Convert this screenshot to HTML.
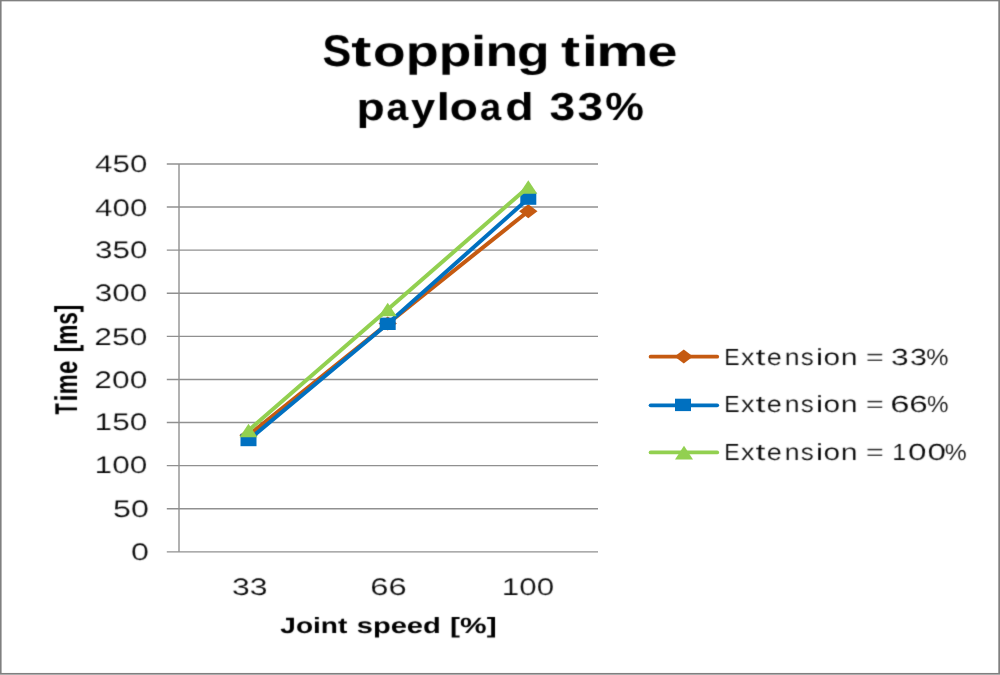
<!DOCTYPE html>
<html><head><meta charset="utf-8"><title>Stopping time payload 33%</title>
<style>
html,body{margin:0;padding:0;background:#fff;}
body{width:1000px;height:675px;overflow:hidden;font-family:"Liberation Sans",sans-serif;}
svg{display:block}
svg text.r{stroke:#fff;stroke-width:0.12px}
svg text{font-family:"Liberation Sans",sans-serif;fill:#000;text-rendering:geometricPrecision}
</style></head><body>
<svg width="1000" height="675" viewBox="0 0 1000 675">
<defs><filter id="soft" x="0" y="0" width="1000" height="675" filterUnits="userSpaceOnUse"><feConvolveMatrix order="3" kernelMatrix="0.02 0.1 0.02 0.1 0.52 0.1 0.02 0.1 0.02" edgeMode="none"/></filter></defs>
<rect x="0" y="0" width="1000" height="675" fill="#fff"/>
<rect x="0.75" y="0.5" width="998.4" height="673.3" fill="none" stroke="#808080" stroke-width="1.7"/>
<g stroke="#909090" stroke-width="1.4" fill="none"><line x1="166.8" y1="551.85" x2="598" y2="551.85"/><line x1="166.8" y1="508.75" x2="598" y2="508.75"/><line x1="166.8" y1="465.65" x2="598" y2="465.65"/><line x1="166.8" y1="422.55" x2="598" y2="422.55"/><line x1="166.8" y1="379.45" x2="598" y2="379.45"/><line x1="166.8" y1="336.35" x2="598" y2="336.35"/><line x1="166.8" y1="293.25" x2="598" y2="293.25"/><line x1="166.8" y1="250.15" x2="598" y2="250.15"/><line x1="166.8" y1="207.05" x2="598" y2="207.05"/><line x1="166.8" y1="163.95" x2="598" y2="163.95"/><line x1="179" y1="163.95" x2="179" y2="551.85"/></g>
<g fill="none" stroke-width="4" stroke-linejoin="round" stroke-linecap="round"><polyline points="248.5,435.3 387.7,323.6 528.3,211.2" stroke="#C55A11"/><polygon points="239.3,435.3 248.5,428.3 257.7,435.3 248.5,442.3" fill="#C55A11"/><polygon points="378.5,323.6 387.7,316.6 396.9,323.6 387.7,330.6" fill="#C55A11"/><polygon points="519.1,211.2 528.3,204.2 537.5,211.2 528.3,218.2" fill="#C55A11"/><polyline points="248.5,440.0 387.7,323.8 528.3,198.6" stroke="#0070C0"/><rect x="240.5" y="433.8" width="16.0" height="12.4" fill="#0070C0"/><rect x="379.7" y="317.6" width="16.0" height="12.4" fill="#0070C0"/><rect x="520.3" y="192.4" width="16.0" height="12.4" fill="#0070C0"/><polyline points="248.5,430.5 387.7,309.5 528.3,187.0" stroke="#92D050"/><polygon points="248.5,423.7 257.5,437.3 239.5,437.3" fill="#92D050"/><polygon points="387.7,302.7 396.7,316.3 378.7,316.3" fill="#92D050"/><polygon points="528.3,180.2 537.3,193.8 519.3,193.8" fill="#92D050"/></g>
<g><line x1="650.6" y1="356.7" x2="717.2" y2="356.7" stroke="#C55A11" stroke-width="3.8" stroke-linecap="round"/><line x1="650.6" y1="405.3" x2="717.2" y2="405.3" stroke="#0070C0" stroke-width="3.8" stroke-linecap="round"/><line x1="650.6" y1="452.4" x2="717.2" y2="452.4" stroke="#92D050" stroke-width="3.8" stroke-linecap="round"/><polygon points="674.6,356.6 683.8,349.6 693.0,356.6 683.8,363.6" fill="#C55A11"/><rect x="675.0" y="398.7" width="16.0" height="12.4" fill="#0070C0"/><polygon points="684.0,445.8 693.0,459.4 675.0,459.4" fill="#92D050"/></g>
<g filter="url(#soft)">
<text transform="translate(322.54,66.0) scale(0.9689,1)" font-size="44.5" font-weight="bold">S</text>
<text transform="translate(351.30,66.0) scale(1.4026,1)" font-size="43" font-weight="bold">t</text>
<text transform="translate(373.10,66.0) scale(1.2535,1)" font-size="42.5" font-weight="bold">o</text>
<text transform="translate(405.76,66.0) scale(1.2687,1)" font-size="42.5" font-weight="bold">p</text>
<text transform="translate(438.80,66.0) scale(1.2549,1)" font-size="42.5" font-weight="bold">p</text>
<text transform="translate(471.12,66.0) scale(1.2713,1)" font-size="43" font-weight="bold">i</text>
<text transform="translate(485.59,66.0) scale(1.2581,1)" font-size="42.5" font-weight="bold">n</text>
<text transform="translate(517.07,66.0) scale(1.2549,1)" font-size="42.5" font-weight="bold">g</text>
<text transform="translate(560.93,66.0) scale(1.3299,1)" font-size="43" font-weight="bold">t</text>
<text transform="translate(582.10,66.0) scale(1.3178,1)" font-size="43" font-weight="bold">i</text>
<text transform="translate(596.18,66.0) scale(1.3812,1)" font-size="42.5" font-weight="bold">m</text>
<text transform="translate(647.39,66.0) scale(1.2612,1)" font-size="42.5" font-weight="bold">e</text>
<text transform="translate(356.62,119.7) scale(1.2178,1)" font-size="38" font-weight="bold">p</text>
<text transform="translate(386.62,119.7) scale(1.0287,1)" font-size="38" font-weight="bold">a</text>
<text transform="translate(411.00,119.7) scale(1.1419,1)" font-size="38" font-weight="bold">y</text>
<text transform="translate(436.38,119.7) scale(1.2641,1)" font-size="38.5" font-weight="bold">l</text>
<text transform="translate(449.72,119.7) scale(1.2105,1)" font-size="38" font-weight="bold">o</text>
<text transform="translate(480.04,119.7) scale(1.0000,1)" font-size="38" font-weight="bold">a</text>
<text transform="translate(505.34,119.7) scale(1.2070,1)" font-size="38.5" font-weight="bold">d</text>
<text transform="translate(549.58,119.7) scale(1.1846,1)" font-size="39" font-weight="bold">3</text>
<text transform="translate(577.58,119.7) scale(1.1846,1)" font-size="39" font-weight="bold">3</text>
<text transform="translate(605.13,119.7) scale(1.1131,1)" font-size="39" font-weight="bold">%</text>
<text transform="translate(95.07,171.95) scale(1.3051,1)" font-size="24" class="r">450</text>
<text transform="translate(95.07,215.75) scale(1.3051,1)" font-size="24" class="r">400</text>
<text transform="translate(94.96,258.45) scale(1.3080,1)" font-size="24" class="r">350</text>
<text transform="translate(94.86,301.35) scale(1.3106,1)" font-size="24" class="r">300</text>
<text transform="translate(94.31,345.15) scale(1.3245,1)" font-size="24" class="r">250</text>
<text transform="translate(94.31,388.25) scale(1.3245,1)" font-size="24" class="r">200</text>
<text transform="translate(94.59,429.55) scale(1.3175,1)" font-size="24" class="r">150</text>
<text transform="translate(94.59,473.25) scale(1.3175,1)" font-size="24" class="r">100</text>
<text transform="translate(113.11,516.75) scale(1.3431,1)" font-size="24" class="r">50</text>
<text transform="translate(131.03,560.25) scale(1.3435,1)" font-size="24" class="r">0</text>
<text transform="translate(232.04,595) scale(1.3303,1)" font-size="24" class="r">33</text>
<text transform="translate(370.36,595) scale(1.3643,1)" font-size="24" class="r">66</text>
<text transform="translate(501.80,595) scale(1.3068,1)" font-size="24" class="r">100</text>
<text transform="translate(280.32,633) scale(1.2743,1)" font-size="22" font-weight="bold">Joint</text>
<text transform="translate(356.73,633) scale(1.3218,1)" font-size="22" font-weight="bold">speed</text>
<text transform="translate(450.11,633) scale(1.3585,1)" font-size="22" font-weight="bold">[%]</text>
<text transform="translate(77.0,414.38) rotate(-90) scale(0.8409,1.434)" font-size="22" font-weight="bold">T</text>
<text transform="translate(77.0,401.52) rotate(-90) scale(1.1515,1.434)" font-size="22" font-weight="bold">i</text>
<text transform="translate(77.0,394.35) rotate(-90) scale(1.0213,1.434)" font-size="22" font-weight="bold">m</text>
<text transform="translate(77.0,374.02) rotate(-90) scale(1.0909,1.434)" font-size="22" font-weight="bold">e</text>
<text transform="translate(77.0,352.33) rotate(-90) scale(1.0275,1.434)" font-size="22" font-weight="bold">[ms]</text>
<text transform="translate(724.35,364.6) scale(0.9953,1)" font-size="23.2" class="r">E</text>
<text transform="translate(740.93,364.6) scale(1.1584,1)" font-size="23.2" class="r">x</text>
<text transform="translate(755.44,364.6) scale(1.5485,1)" font-size="23.2" class="r">t</text>
<text transform="translate(766.82,364.6) scale(1.1674,1)" font-size="23.2" class="r">e</text>
<text transform="translate(784.70,364.6) scale(1.1462,1)" font-size="23.2" class="r">n</text>
<text transform="translate(800.78,364.6) scale(1.1207,1)" font-size="23.2" class="r">s</text>
<text transform="translate(815.86,364.6) scale(1.4655,1)" font-size="23.2" class="r">i</text>
<text transform="translate(823.51,364.6) scale(1.2841,1)" font-size="23.2" class="r">o</text>
<text transform="translate(840.69,364.6) scale(1.3029,1)" font-size="23.2" class="r">n</text>
<text transform="translate(866.08,364.6) scale(1.3103,1)" font-size="23.2" class="r">=</text>
<text transform="translate(891.04,364.6) scale(1.3723,1)" font-size="23.2" class="r">3</text>
<text transform="translate(909.99,364.6) scale(1.3107,1)" font-size="23.2" class="r">3</text>
<text transform="translate(926.35,364.6) scale(1.0802,1)" font-size="23.2" class="r">%</text>
<text transform="translate(724.35,412.0) scale(0.9953,1)" font-size="23.2" class="r">E</text>
<text transform="translate(740.93,412.0) scale(1.1584,1)" font-size="23.2" class="r">x</text>
<text transform="translate(755.44,412.0) scale(1.5485,1)" font-size="23.2" class="r">t</text>
<text transform="translate(766.82,412.0) scale(1.1674,1)" font-size="23.2" class="r">e</text>
<text transform="translate(784.70,412.0) scale(1.1462,1)" font-size="23.2" class="r">n</text>
<text transform="translate(800.78,412.0) scale(1.1207,1)" font-size="23.2" class="r">s</text>
<text transform="translate(815.86,412.0) scale(1.4655,1)" font-size="23.2" class="r">i</text>
<text transform="translate(823.51,412.0) scale(1.2841,1)" font-size="23.2" class="r">o</text>
<text transform="translate(840.69,412.0) scale(1.3029,1)" font-size="23.2" class="r">n</text>
<text transform="translate(866.08,412.0) scale(1.3103,1)" font-size="23.2" class="r">=</text>
<text transform="translate(890.27,412.0) scale(1.4949,1)" font-size="23.2" class="r">6</text>
<text transform="translate(909.24,412.0) scale(1.4307,1)" font-size="23.2" class="r">6</text>
<text transform="translate(927.07,412.0) scale(1.0438,1)" font-size="23.2" class="r">%</text>
<text transform="translate(724.35,460.0) scale(0.9953,1)" font-size="23.2" class="r">E</text>
<text transform="translate(740.93,460.0) scale(1.1584,1)" font-size="23.2" class="r">x</text>
<text transform="translate(755.44,460.0) scale(1.5485,1)" font-size="23.2" class="r">t</text>
<text transform="translate(766.82,460.0) scale(1.1674,1)" font-size="23.2" class="r">e</text>
<text transform="translate(784.70,460.0) scale(1.1462,1)" font-size="23.2" class="r">n</text>
<text transform="translate(800.78,460.0) scale(1.1207,1)" font-size="23.2" class="r">s</text>
<text transform="translate(815.86,460.0) scale(1.4655,1)" font-size="23.2" class="r">i</text>
<text transform="translate(823.51,460.0) scale(1.2841,1)" font-size="23.2" class="r">o</text>
<text transform="translate(840.69,460.0) scale(1.3029,1)" font-size="23.2" class="r">n</text>
<text transform="translate(866.08,460.0) scale(1.3103,1)" font-size="23.2" class="r">=</text>
<text transform="translate(892.25,460.0) scale(1.0776,1)" font-size="23.2" class="r">1</text>
<text transform="translate(907.90,460.0) scale(1.4338,1)" font-size="23.2" class="r">0</text>
<text transform="translate(927.40,460.0) scale(1.4338,1)" font-size="23.2" class="r">0</text>
<text transform="translate(944.86,460.0) scale(1.0646,1)" font-size="23.2" class="r">%</text>
</g>
</svg>
</body></html>
